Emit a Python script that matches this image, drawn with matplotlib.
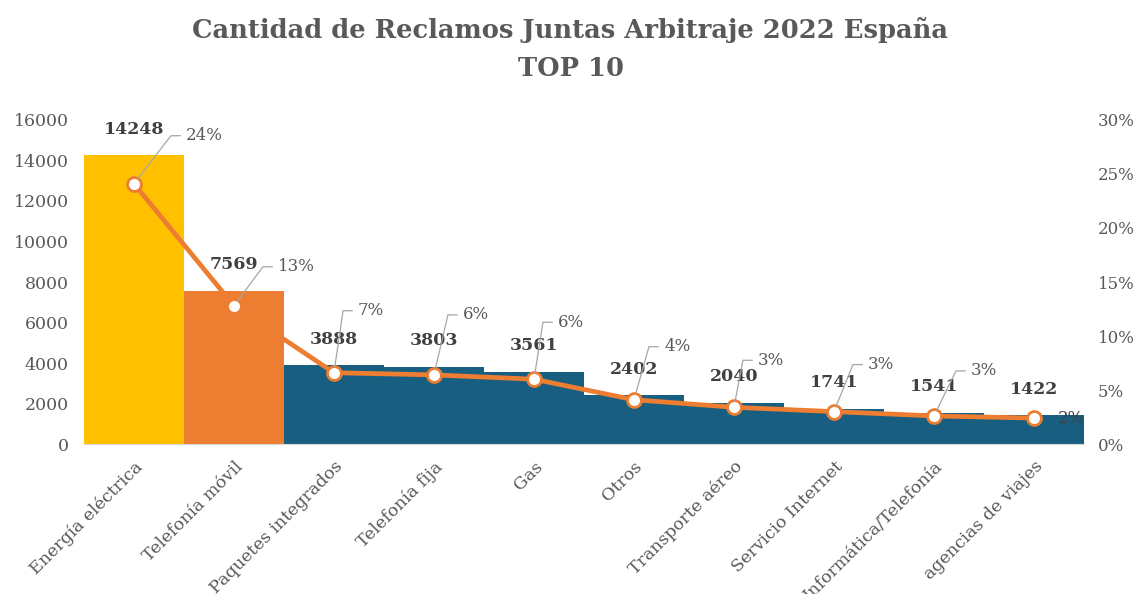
import math
import matplotlib
matplotlib.use("Agg")
from matplotlib import pyplot as plt

# datos: top 10 reclamos juntas arbitraje 2022
categorias = ["Energía eléctrica", "Telefonía móvil", "Paquetes integrados",
              "Telefonía fija", "Gas", "Otros", "Transporte aéreo",
              "Servicio Internet", "Informática/Telefonía", "agencias de viajes"]
reclamos = [14248, 7569, 3888, 3803, 3561, 2402, 2040, 1741, 1541, 1422]
porcentaje = [24.1, 12.8, 6.6, 6.4, 6.0, 4.1, 3.4, 3.0, 2.6, 2.4]

colores = ["#FFC000", "#ED7D31"] + ["#185E80"] * 8
gris = "#595959"

# posicion de las etiquetas % respecto al marcador (pixeles)
offsets_pct = [(52, 48), (44, 39), (24, 62), (29, 60), (24, 57),
               (30, 53), (24, 47), (34, 47), (37, 45), (24, 0)]

plt.rcParams['font.family'] = ['DejaVu Serif']

fig = plt.figure(figsize=(11.41, 5.94), dpi=100)
ax = fig.add_axes([0.0736, 0.2525, 0.8764, 0.5455])
x = list(range(len(categorias)))

ax.bar(x, reclamos, width=1.0, color=colores, zorder=2)
ax.set_xlim(-0.5, 9.5)
ax.set_ylim(0, 16000)
ax.set_yticks(range(0, 16001, 2000))
ax.set_xticks(x)
ax.set_xticklabels(categorias, rotation=45, ha="right", rotation_mode="anchor",
                   fontsize=12, color=gris)
ax.tick_params(axis="both", length=0, labelsize=12.5, labelcolor=gris)
ax.tick_params(axis="y", pad=11)
ax.tick_params(axis="x", pad=10)
for s in ["top", "right", "left"]:
    ax.spines[s].set_visible(False)
ax.spines["bottom"].set_color("#D9D9D9")

for xi, v in zip(x, reclamos):
    ax.annotate(str(v), (xi, v), xytext=(0, 26), textcoords="offset pixels",
                ha="center", va="center", fontsize=12.5, fontweight="bold",
                color="#404040", zorder=5)

ax2 = ax.twinx()
ax2.set_ylim(0, 30)
ax2.set_yticks(range(0, 31, 5))
ax2.set_yticklabels([f"{t}%" for t in range(0, 31, 5)])
ax2.tick_params(axis="y", length=0, labelsize=12, labelcolor=gris, pad=10)
for s in ["top", "right", "left", "bottom"]:
    ax2.spines[s].set_visible(False)

ax2.plot(x, porcentaje, color="#ED7D31", linewidth=3.4, marker="o",
         markersize=10, markerfacecolor="white", markeredgecolor="#ED7D31",
         markeredgewidth=2, zorder=3)

for i, (xi, p) in enumerate(zip(x, porcentaje)):
    dx, dy = offsets_pct[i]
    if dy == 0:
        ax2.annotate(f"{p:.0f}%", (xi, p), xytext=(dx, dy), textcoords="offset pixels",
                     ha="left", va="center", fontsize=12, color="#404040")
        continue
    ang = math.degrees(math.atan2(dy, dx - 15))
    ax2.annotate(f"{p:.0f}%", (xi, p), xytext=(dx, dy), textcoords="offset pixels",
                 ha="left", va="center", fontsize=12, color=gris,
                 arrowprops=dict(arrowstyle="-", color="#A6A6A6", lw=0.9,
                                 relpos=(0, 0.5), shrinkA=2, shrinkB=4,
                                 connectionstyle=f"angle,angleA=0,angleB={ang:.1f},rad=0"))

fig.text(0.5, 1 - 30 / 594, "Cantidad de Reclamos Juntas Arbitraje 2022 España",
         ha="center", va="center", fontsize=18.5, fontweight="bold", color=gris)
fig.text(0.5, 1 - 68 / 594, "TOP 10", ha="center", va="center",
         fontsize=18.5, fontweight="bold", color=gris)

fig.savefig("out.png", dpi=100)
